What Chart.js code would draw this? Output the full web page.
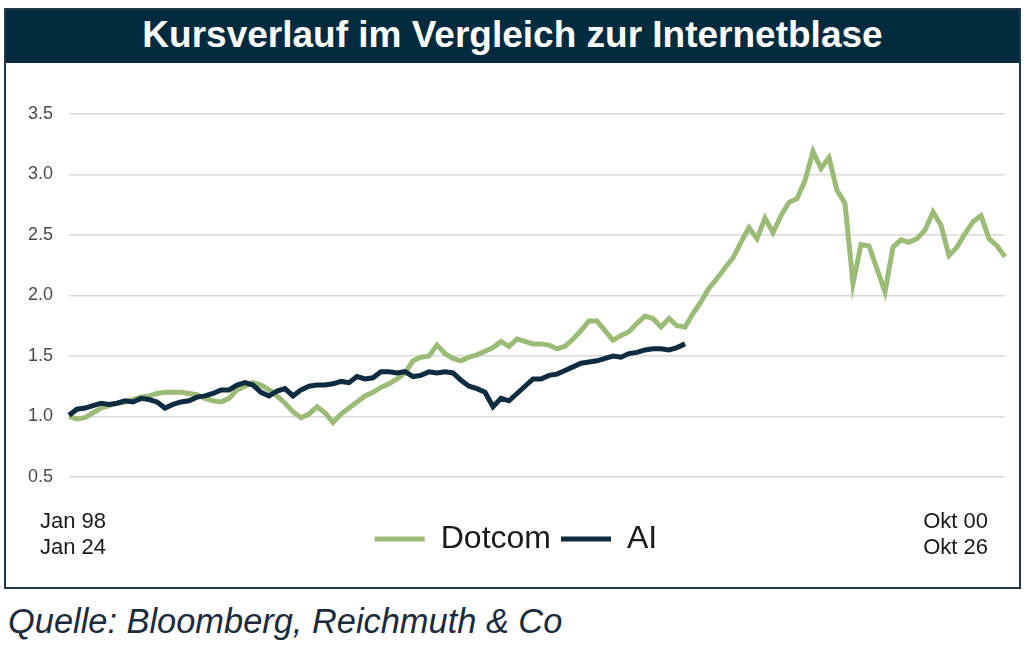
<!DOCTYPE html>
<html>
<head>
<meta charset="utf-8">
<script src="https://cdn.jsdelivr.net/npm/chart.js@4"></script>
<style>
  body{ margin:0; background:#fff; width:1026px; height:645px; position:relative; overflow:hidden; font-family:"Liberation Sans", Arial, sans-serif; }
  #box{ position:absolute; left:4px; top:8px; width:1013px; height:577px; border:2px solid #1f3a4c; }
  #titlebar{ position:absolute; left:0; top:0; right:0; height:53px; background:#022b40; color:#fff; font-weight:bold; font-size:37px; text-align:center; line-height:50px; }
  #wrap{ position:absolute; left:0; top:62px; width:1026px; height:526px; }
  .xl{ position:absolute; font-size:22px; color:#1a1a1a; line-height:26px; }
  #src{ position:absolute; left:8px; top:602px; font-style:italic; font-size:34.4px; color:#1c2b3b; }
</style>
</head>
<body>
<div id="box"><div id="titlebar">Kursverlauf im Vergleich zur Internetblase</div></div>
<div id="wrap"><canvas id="chart"></canvas></div>
<div class="xl" style="left:40px;top:508px;">Jan 98<br>Jan 24</div>
<div class="xl" style="left:900px;width:88px;text-align:right;top:508px;">Okt 00<br>Okt 26</div>
<div id="src">Quelle: Bloomberg, Reichmuth &amp; Co</div>
<script>
// Dotcom: Jan 98 - Okt 00, AI: Jan 24 - today (indexed to 1.0)
const dotcom = [
  1.00, 0.98, 0.99, 1.03, 1.07, 1.09, 1.11, 1.12, 1.14, 1.16,
  1.17, 1.19, 1.20, 1.20, 1.20, 1.19, 1.18, 1.15, 1.13, 1.12,
  1.15, 1.22, 1.25, 1.28, 1.26, 1.22, 1.17, 1.11, 1.04, 0.99,
  1.02, 1.08, 1.03, 0.95, 1.02, 1.07, 1.12, 1.17, 1.20, 1.24,
  1.27, 1.31, 1.36, 1.46, 1.49, 1.50, 1.59, 1.52, 1.48, 1.46,
  1.49, 1.51, 1.54, 1.57, 1.62, 1.58, 1.64, 1.62, 1.60, 1.60,
  1.59, 1.56, 1.58, 1.64, 1.71, 1.79, 1.79, 1.71, 1.63, 1.67,
  1.70, 1.77, 1.83, 1.81, 1.74, 1.81, 1.75, 1.74, 1.85, 1.95,
  2.06, 2.14, 2.23, 2.31, 2.44, 2.56, 2.47, 2.64, 2.52, 2.66,
  2.77, 2.80, 2.95, 3.19, 3.05, 3.14, 2.87, 2.76, 2.10, 2.42,
  2.41, 2.22, 2.03, 2.40, 2.46, 2.44, 2.47, 2.54, 2.69, 2.58,
  2.33, 2.40, 2.51, 2.61, 2.66, 2.47, 2.41, 2.32
];
const ai = [
  1.01, 1.06, 1.07, 1.09, 1.11, 1.10, 1.11, 1.13, 1.12, 1.15,
  1.14, 1.12, 1.07, 1.10, 1.12, 1.13, 1.16, 1.17, 1.19, 1.22,
  1.22, 1.26, 1.28, 1.26, 1.20, 1.17, 1.21, 1.23, 1.17, 1.22,
  1.25, 1.26, 1.26, 1.27, 1.29, 1.28, 1.33, 1.31, 1.32, 1.37,
  1.37, 1.36, 1.37, 1.33, 1.34, 1.37, 1.36, 1.37, 1.36, 1.30,
  1.25, 1.23, 1.20, 1.08, 1.15, 1.13, 1.19, 1.25, 1.31, 1.31,
  1.34, 1.35, 1.38, 1.41, 1.44, 1.45, 1.46, 1.48, 1.50, 1.49,
  1.52, 1.53, 1.55, 1.56, 1.56, 1.55, 1.57, 1.60
];
const yTicks = [0.5, 1.0, 1.5, 2.0, 2.5, 3.0, 3.5];
const labels = dotcom.map((_, i) => i);

const green = '#9bbb76', navy = '#0e2c3f';
const font = '"Liberation Sans", Arial, sans-serif';

new Chart(document.getElementById('chart'), {
  type: 'line',
  data: {
    labels,
    datasets: [
      { label: 'Dotcom', data: dotcom, borderColor: green, backgroundColor: green, borderWidth: 5, pointRadius: 0, tension: 0, order: 1 },
      { label: 'AI', data: ai, borderColor: navy, backgroundColor: navy, borderWidth: 5, pointRadius: 0, tension: 0, order: 0 }
    ]
  },
  options: {
    responsive: true,
    maintainAspectRatio: false,
    animation: false,
    layout: { padding: { left: 6, right: 0, top: 52, bottom: 23 } },
    plugins: {
      tooltip: { enabled: false },
      legend: {
        position: 'bottom',
        labels: {
          boxWidth: 50, boxHeight: 5, padding: 10,
          color: '#1a1a1a',
          font: { family: font, size: 32 },
          sort: (a, b) => a.datasetIndex - b.datasetIndex,
          generateLabels(chart){
            const items = Chart.defaults.plugins.legend.labels.generateLabels(chart);
            items.forEach(it => { it.lineWidth = 0; it.fillStyle = it.strokeStyle; });
            return items;
          }
        }
      }
    },
    scales: {
      x: {
        grid: { display: false },
        border: { display: false },
        ticks: { display: false },
        afterFit(s){ s.height = 36; }
      },
      y: {
        min: 0.5, max: 3.5,
        afterBuildTicks(s){ s.ticks = yTicks.map(v => ({ value: v })); },
        afterFit(s){ s.width = 63; },
        grid: { color: '#d9d9d9', lineWidth: 1.5, drawTicks: false },
        border: { display: false },
        ticks: {
          padding: 16,
          color: '#4a4a4a',
          font: { family: font, size: 18 },
          callback: v => v.toFixed(1)
        }
      },
      yRight: {
        position: 'right',
        display: true,
        grid: { display: false },
        border: { display: false },
        ticks: { display: false },
        afterFit(s){ s.width = 21; }
      }
    }
  }
});
</script>
</body>
</html>
